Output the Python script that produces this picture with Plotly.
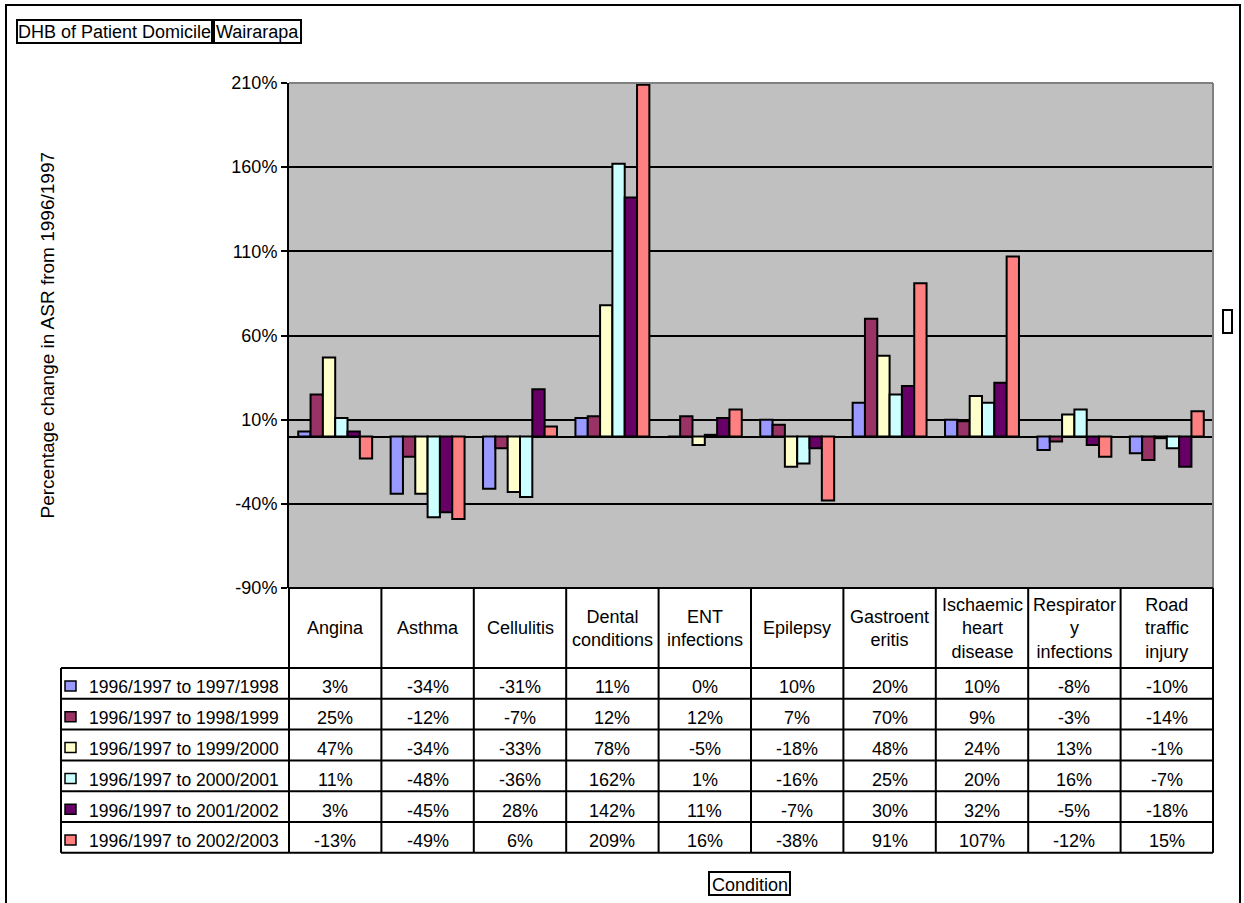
import plotly.graph_objects as go

# ---------------- data ----------------
categories = ["Angina", "Asthma", "Cellulitis", "Dental conditions", "ENT infections",
              "Epilepsy", "Gastroenteritis", "Ischaemic heart disease",
              "Respiratory infections", "Road traffic injury"]
header_labels = ["Angina", "Asthma", "Cellulitis", "Dental<br>conditions", "ENT<br>infections",
                 "Epilepsy", "Gastroent<br>eritis", "Ischaemic<br>heart<br>disease",
                 "Respirator<br>y<br>infections", "Road<br>traffic<br>injury"]
series_names = ["1996/1997 to 1997/1998", "1996/1997 to 1998/1999", "1996/1997 to 1999/2000",
                "1996/1997 to 2000/2001", "1996/1997 to 2001/2002", "1996/1997 to 2002/2003"]
s_9798 = [3, -34, -31, 11, 0, 10, 20, 10, -8, -10]
s_9899 = [25, -12, -7, 12, 12, 7, 70, 9, -3, -14]
s_9900 = [47, -34, -33, 78, -5, -18, 48, 24, 13, -1]
s_0001 = [11, -48, -36, 162, 1, -16, 25, 20, 16, -7]
s_0102 = [3, -45, 28, 142, 11, -7, 30, 32, -5, -18]
s_0203 = [-13, -49, 6, 209, 16, -38, 91, 107, -12, 15]
series_values = [s_9798, s_9899, s_9900, s_0001, s_0102, s_0203]
colors = ["#9999FF", "#993366", "#FFFFCC", "#CCFFFF", "#660066", "#FF8080"]
y_tickvals = [-90, -40, 10, 60, 110, 160, 210]
y_ticktext = [f"{v}%" for v in y_tickvals]

# ---------------- layout geometry (pixels) ----------------
W, H = 1244, 903
L, R, T, B = 289, 1213, 83, 588
PW, PH = R - L, B - T
FONT = "Liberation Sans, Arial, sans-serif"
FS = 18


def px(x):
    return (x - L) / PW


def py(y):
    return (B - y) / PH


fig = go.Figure()
for name, vals, col in zip(series_names, series_values, colors):
    fig.add_trace(go.Bar(x=categories, y=vals, name=name, marker_color=col,
                         marker_line_color="black", marker_line_width=2,
                         showlegend=False))

shapes = []
annotations = []

# outer border
shapes.append(dict(type="rect", xref="paper", yref="paper", x0=px(6), x1=px(1240),
                   y0=py(5), y1=py(915), line=dict(color="black", width=2),
                   fillcolor="rgba(0,0,0,0)", layer="above"))
# plot top / right border (gray)
shapes.append(dict(type="line", xref="paper", yref="paper", x0=0, x1=1, y0=1, y1=1,
                   line=dict(color="#808080", width=2), layer="above"))
shapes.append(dict(type="line", xref="paper", yref="paper", x0=1, x1=1, y0=0, y1=1,
                   line=dict(color="#808080", width=2), layer="above"))

# table geometry
ncat = len(categories)
colw = PW / ncat
header_bottom = 668
row_h = 30.8
nrows = len(series_names)
table_bottom = header_bottom + nrows * row_h
legend_left = 61

line = dict(color="black", width=2)
# horizontal lines
shapes.append(dict(type="line", xref="paper", yref="paper", x0=px(L), x1=px(R),
                   y0=py(B), y1=py(B), line=line, layer="above"))
for k in range(nrows + 1):
    yy = header_bottom + k * row_h
    shapes.append(dict(type="line", xref="paper", yref="paper", x0=px(legend_left), x1=px(R),
                       y0=py(yy), y1=py(yy), line=line, layer="above"))
# vertical lines
shapes.append(dict(type="line", xref="paper", yref="paper", x0=px(legend_left), x1=px(legend_left),
                   y0=py(header_bottom), y1=py(table_bottom), line=line, layer="above"))
for i in range(ncat + 1):
    xx = L + i * colw
    shapes.append(dict(type="line", xref="paper", yref="paper", x0=px(xx), x1=px(xx),
                       y0=py(B), y1=py(table_bottom), line=line, layer="above"))

# header labels
for i, lab in enumerate(header_labels):
    annotations.append(dict(xref="paper", yref="paper", x=px(L + (i + 0.5) * colw),
                            y=py((B + header_bottom) / 2), text=lab, showarrow=False,
                            xanchor="center", yanchor="middle", align="center",
                            font=dict(family=FONT, size=FS, color="black")))

# rows
for r, (name, vals, col) in enumerate(zip(series_names, series_values, colors)):
    top = header_bottom + r * row_h
    cy = top + row_h / 2 + 4
    shapes.append(dict(type="rect", xref="paper", yref="paper", x0=px(65), x1=px(76),
                       y0=py(top + 13), y1=py(top + 23), fillcolor=col,
                       line=dict(color="black", width=1.5), layer="above"))
    annotations.append(dict(xref="paper", yref="paper", x=px(87), y=py(cy), text=name,
                            showarrow=False, xanchor="left", yanchor="middle",
                            font=dict(family=FONT, size=FS - 0.5, color="black")))
    for i, v in enumerate(vals):
        annotations.append(dict(xref="paper", yref="paper", x=px(L + (i + 0.5) * colw),
                                y=py(cy), text=f"{v}%", showarrow=False,
                                xanchor="center", yanchor="middle",
                                font=dict(family=FONT, size=FS, color="black")))

# y axis title
annotations.append(dict(xref="paper", yref="paper", x=px(47), y=py((T + B) / 2),
                        text="Percentage change in ASR from 1996/1997", textangle=-90,
                        showarrow=False, xanchor="center", yanchor="middle",
                        font=dict(family=FONT, size=19, color="black")))

# boxed labels
def boxed(x0, x1, y0, y1, text):
    shapes.append(dict(type="rect", xref="paper", yref="paper", x0=px(x0), x1=px(x1),
                       y0=py(y0), y1=py(y1), line=dict(color="black", width=2),
                       fillcolor="rgba(0,0,0,0)", layer="above"))
    annotations.append(dict(xref="paper", yref="paper", x=px((x0 + x1) / 2),
                            y=py((y0 + y1) / 2 + 1), text=text, showarrow=False,
                            xanchor="center", yanchor="middle",
                            font=dict(family=FONT, size=FS, color="black")))


boxed(17, 212, 20, 43, "DHB of Patient Domicile")
boxed(214, 301, 20, 43, "Wairarapa")
boxed(709, 790, 872, 895, "Condition")

# empty legend box at right
shapes.append(dict(type="rect", xref="paper", yref="paper", x0=px(1223), x1=px(1232),
                   y0=py(310), y1=py(333), line=dict(color="black", width=2),
                   fillcolor="white", layer="above"))

fig.update_layout(
    width=W, height=H,
    margin=dict(l=L, r=W - R, t=T, b=H - B, pad=0),
    paper_bgcolor="white", plot_bgcolor="#C0C0C0",
    barmode="group", bargap=0.2, bargroupgap=0,
    font=dict(family=FONT, size=FS, color="black"),
    shapes=shapes, annotations=annotations,
    showlegend=False,
)
fig.update_xaxes(showticklabels=False, showgrid=False, zeroline=False, showline=False,
                 ticks="", range=[-0.5, ncat - 0.5], automargin=False)
fig.update_yaxes(range=[-90, 210], tickvals=y_tickvals, ticktext=y_ticktext,
                 showgrid=True, gridcolor="black", gridwidth=2,
                 zeroline=True, zerolinecolor="black", zerolinewidth=2,
                 showline=True, linecolor="black", linewidth=2,
                 ticks="outside", ticklen=6, tickcolor="black", tickwidth=2,
                 tickfont=dict(family=FONT, size=FS, color="black"), automargin=False)

fig.write_html("out.html")
